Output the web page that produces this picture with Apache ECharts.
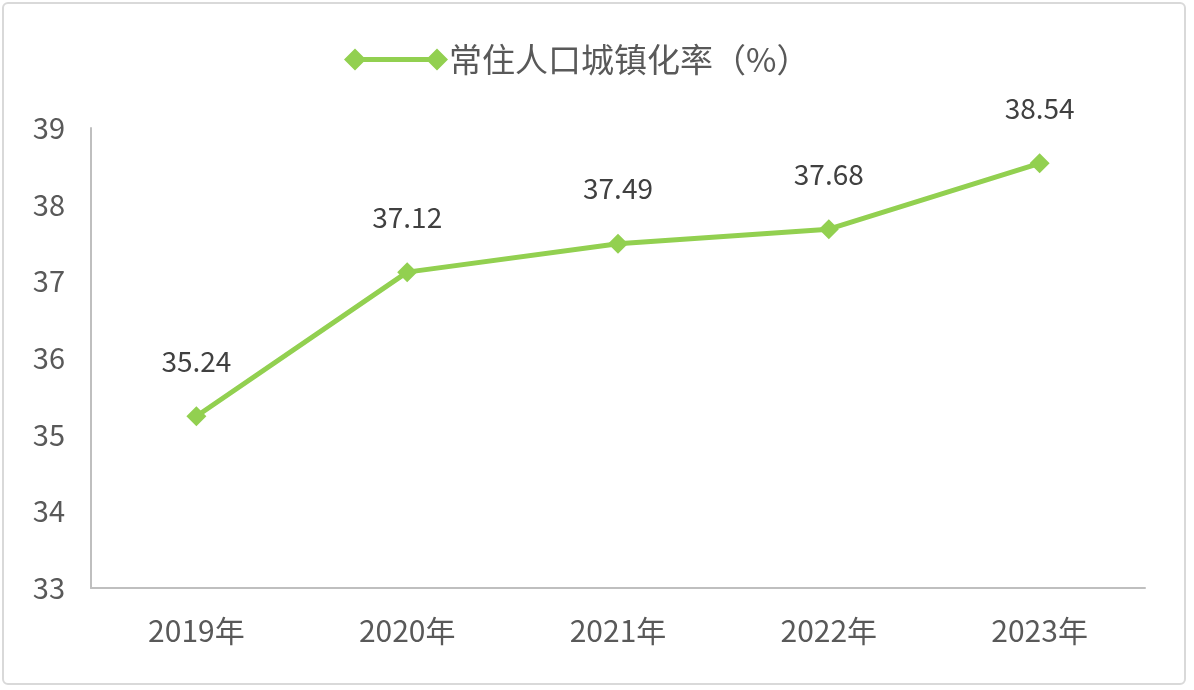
<!DOCTYPE html>
<html><head><meta charset="utf-8">
<script src="https://cdn.jsdelivr.net/npm/echarts@6/dist/echarts.min.js"></script>
<style>html,body{margin:0;padding:0;background:#fff;}
#frame{position:absolute;left:2px;top:2px;width:1184px;height:683px;border:2px solid #d9d9d9;border-radius:6px;box-sizing:border-box;}
#c{position:absolute;left:0;top:0;width:1194px;height:690px;}</style>
</head><body>
<div id="frame"></div>
<div id="c"></div>
<script>
const categories = ['2019年','2020年','2021年','2022年','2023年'];
const seriesName = '常住人口城镇化率（%）';
const values = [35.24, 37.12, 37.49, 37.68, 38.54];
const yTicks = [33,34,35,36,37,38,39];

const chart = echarts.init(document.getElementById('c'));
const font = '"Noto Sans CJK SC", "Noto Sans", sans-serif';
const legendIcon = 'path://M0 11 L11 0 L22 11 L11 22 Z M82 11 L93 0 L104 11 L93 22 Z M11 8.5 H93 V13.5 H11 Z';
chart.setOption({
  backgroundColor: 'transparent',
  animation: false,
  legend: {
    data: [{name: seriesName, icon: legendIcon}],
    top: 38,
    left: 339,
    itemWidth: 104,
    itemHeight: 22,
    symbolKeepAspect: false,
    textStyle: {fontSize: 33, color: '#595959', fontFamily: font, padding: [0,0,0,-4]}
  },
  grid: {left: 91, right: 49, top: 128, bottom: 102},
  xAxis: {
    type: 'category',
    data: categories,
    boundaryGap: true,
    axisLine: {lineStyle: {color: '#bfbfbf', width: 2}},
    axisTick: {show: false},
    axisLabel: {fontSize: 30, color: '#595959', margin: 28, fontFamily: font}
  },
  yAxis: {
    type: 'value',
    min: yTicks[0],
    max: yTicks[yTicks.length-1],
    interval: 1,
    axisLine: {show: true, lineStyle: {color: '#bfbfbf', width: 2}},
    axisTick: {show: false},
    splitLine: {show: false},
    axisLabel: {fontSize: 29, color: '#595959', margin: 26, fontFamily: font}
  },
  series: [{
    name: seriesName,
    type: 'line',
    data: values,
    symbol: 'diamond',
    symbolSize: 20,
    lineStyle: {color: '#92D050', width: 5},
    itemStyle: {color: '#92D050'},
    label: {show: true, position: 'top', distance: 31, fontSize: 28, color: '#404040', fontFamily: font,
      formatter: p => p.value.toFixed(2)}
  }]
});
</script>
</body></html>
